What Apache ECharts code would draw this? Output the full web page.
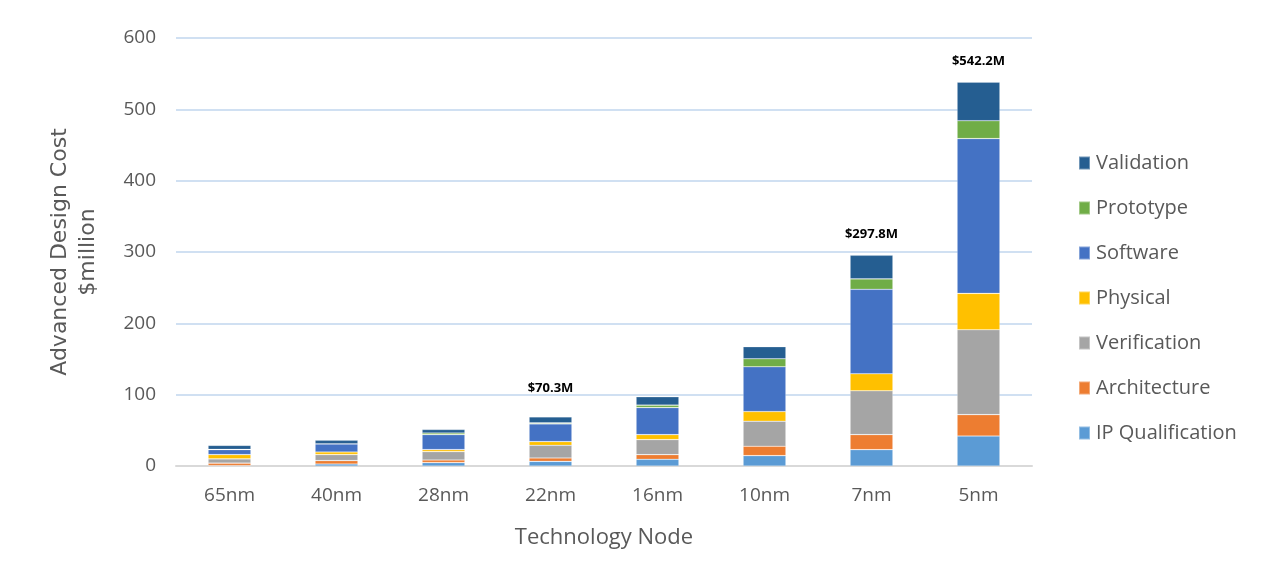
<!DOCTYPE html>
<html>
<head>
<meta charset="utf-8">
<script src="https://cdn.jsdelivr.net/npm/echarts@6/dist/echarts.min.js"></script>
<style>
html,body{margin:0;padding:0;background:#fff;}
#frame{position:absolute;left:9px;top:6px;width:1300px;height:600px;border-left:1px solid #d9d9d9;border-top:1px solid #d9d9d9;}
#chart{position:absolute;left:0;top:0;width:1269px;height:578px;}
</style>
</head>
<body>
<div id="frame"></div>
<div id="chart"></div>
<script>
const categories = ['65nm','40nm','28nm','22nm','16nm','10nm','7nm','5nm'];
const ipQualification = [0.5, 2.8, 4.8, 6.5, 9.4, 14.5, 22.9, 42];
const architecture    = [3.5, 4.8, 3.6, 4.8, 6.5, 13.2, 21.1, 30];
const verification    = [6.0, 8.4, 11.8, 17.7, 21.1, 35.1, 61.4, 119];
const physical        = [6.0, 3.7, 2.8, 5.2, 7.0, 13.5, 23.9, 51];
const software        = [7.0, 11.2, 21.0, 24.9, 37.9, 62.8, 118.4, 217];
const prototype       = [0.3, 0.3, 2.3, 1.4, 3.4, 11.2, 14.6, 25];
const validation      = [5.6, 4.8, 4.8, 8.4, 11.7, 16.9, 33.1, 54];
const totalLabels     = ['', '', '', '$70.3M', '', '', '$297.8M', '$542.2M'];
const yTicks = [0, 100, 200, 300, 400, 500, 600];

const seriesDefs = [
  ['IP Qualification', ipQualification, '#5b9bd5'],
  ['Architecture', architecture, '#ed7d31'],
  ['Verification', verification, '#a5a5a5'],
  ['Physical', physical, '#ffc000'],
  ['Software', software, '#4472c4'],
  ['Prototype', prototype, '#70ad47'],
  ['Validation', validation, '#255e91']
];

const chart = echarts.init(document.getElementById('chart'), null, {renderer:'canvas'});
const series = seriesDefs.map(function(d, i){
  const s = {
    name: d[0], type: 'bar', stack: 'total', barWidth: '40%',
    itemStyle: {color: d[2], borderColor: 'rgba(255,255,255,0.35)', borderWidth: 0.6},
    emphasis: {disabled: true},
    data: d[1]
  };
  if (i === seriesDefs.length - 1) {
    s.data = d[1].map(function(v, k){
      return {value: v, label: {show: totalLabels[k] !== '', distance: (k === 3 ? 22 : 14)}};
    });
    s.label = {
      show: true, position: 'top', color: '#000', fontWeight: 'bold', fontSize: 13,
      fontFamily: 'Open Sans',
      formatter: function(p){ return totalLabels[p.dataIndex]; }
    };
  }
  return s;
});

chart.setOption({
  backgroundColor: '#fff',
  animation: false,
  grid: {left: 176, right: 237, top: 38, bottom: 112},
  legend: {
    orient: 'vertical', left: 1073, top: 148,
    data: ['Validation','Prototype','Software','Physical','Verification','Architecture','IP Qualification'],
    itemWidth: 11, itemHeight: 13, itemGap: 25, icon: 'rect',
    textStyle: {fontSize: 20, color: '#595959', fontFamily: 'Open Sans', padding: [0,0,0,1]}
  },
  xAxis: {
    type: 'category', data: categories,
    name: 'Technology Node', nameLocation: 'middle', nameGap: 61,
    nameTextStyle: {fontSize: 22, color: '#595959', fontFamily: 'Open Sans'},
    axisLine: {lineStyle: {color: '#d9d9d9', width: 2}},
    axisTick: {show: false},
    axisLabel: {fontSize: 19, color: '#595959', fontFamily: 'Open Sans', margin: 20}
  },
  yAxis: {
    type: 'value', min: yTicks[0], max: yTicks[yTicks.length-1], interval: 100,
    name: 'Advanced Design Cost\n$million', nameLocation: 'middle', nameGap: 74, nameRotate: 90,
    nameTextStyle: {fontSize: 22, color: '#595959', fontFamily: 'DejaVu Sans', lineHeight: 28},
    axisLine: {show: false}, axisTick: {show: false},
    axisLabel: {fontSize: 19, color: '#595959', fontFamily: 'Open Sans', margin: 20},
    splitLine: {lineStyle: {color: '#d0e0f2', width: 2}}
  },
  series: series
});
</script>
</body>
</html>
